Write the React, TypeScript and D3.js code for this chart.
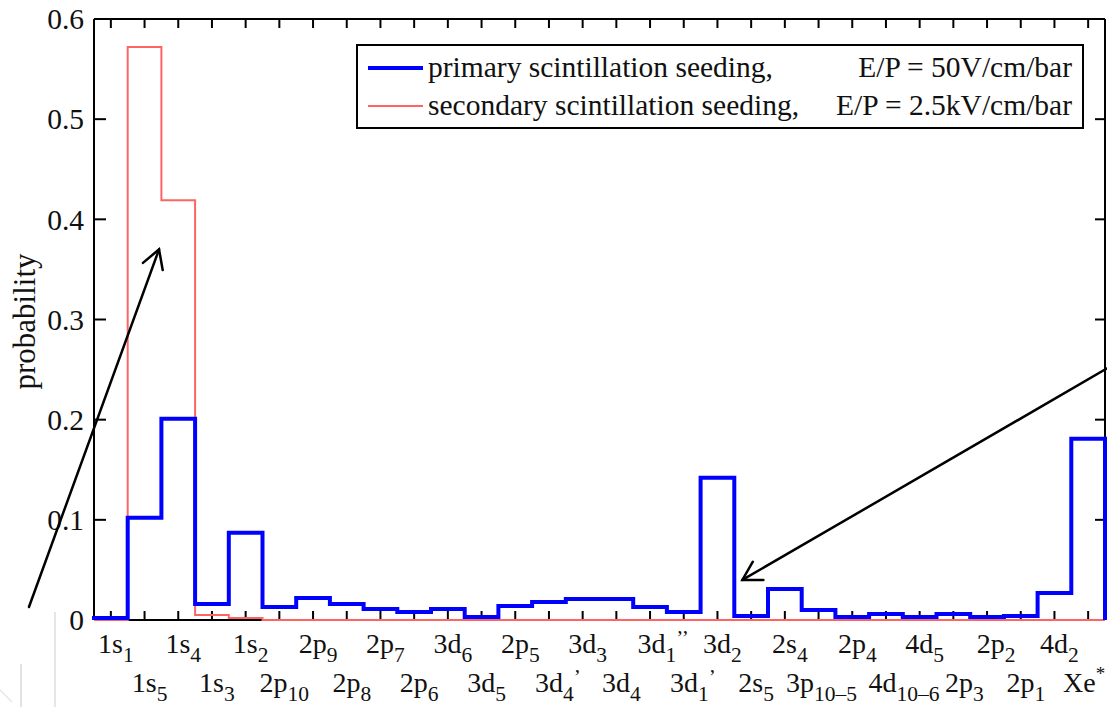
import React from "react";
import * as d3 from "d3";

// Excited xenon levels, left to right along the histogram.
// "_" starts a subscript, "^" a superscript; trailing primes follow the subscript.
const levels = [
  "1s_1", "1s_5", "1s_4", "1s_3", "1s_2", "2p_10", "2p_9", "2p_8", "2p_7", "2p_6",
  "3d_6", "3d_5", "2p_5", "3d_4’", "3d_3", "3d_4", "3d_1’’", "3d_1’", "3d_2", "2s_5",
  "2s_4", "3p_10–5", "2p_4", "4d_10–6", "4d_5", "2p_3", "2p_2", "2p_1", "4d_2", "Xe^*",
];

// Seeding probability per level, primary scintillation (E/P = 50 V/cm/bar).
const primary = [
  0.002, 0.102, 0.201, 0.016, 0.087, 0.013, 0.022, 0.016, 0.011, 0.008,
  0.011, 0.003, 0.014, 0.018, 0.021, 0.021, 0.013, 0.008, 0.142, 0.004,
  0.031, 0.010, 0.003, 0.006, 0.003, 0.006, 0.003, 0.004, 0.027, 0.181,
];

// Seeding probability per level, secondary scintillation (E/P = 2.5 kV/cm/bar).
const secondary = [
  0, 0.572, 0.419, 0.005, 0.002, 0, 0, 0, 0, 0,
  0, 0, 0, 0, 0, 0, 0, 0, 0, 0,
  0, 0, 0, 0, 0, 0, 0, 0, 0, 0,
];

const yTicks = [0, 0.1, 0.2, 0.3, 0.4, 0.5, 0.6];

const legendItems = [
  { name: "primary scintillation seeding,", field: "E/P = 50V/cm/bar" },
  { name: "secondary scintillation seeding,", field: "E/P = 2.5kV/cm/bar" },
];

// Annotation arrows, in data units: [fromBin, fromValue, toBin, toValue]
const arrows = [
  [-1.93, 0.013, 1.93, 0.37],
  [30.05, 0.251, 19.24, 0.04],
];

const W = 1107;
const H = 707;
const FONT = "'Liberation Serif', 'Times New Roman', serif";

const plot = { left: 94, right: 1105, top: 19, bottom: 620 };

const x = d3.scaleLinear().domain([0, levels.length]).range([plot.left, plot.right]);
const y = d3.scaleLinear().domain([0, 0.6]).range([plot.bottom, plot.top]);

// Horizontal label shifts (px) so long neighbouring labels do not collide.
const labelShift = 5;
const labelNudge: Record<string, number> = {
  "4d_10–6": 13,
  "3p_10–5": -2,
  "2p_3": 6,
  "2p_2": 4,
  "Xe^*": -9,
};

function stairs(values: number[]): string {
  const pts: [number, number][] = [[0, 0]];
  values.forEach((v, i) => {
    pts.push([i, v]);
    pts.push([i + 1, v]);
  });
  pts.push([values.length, 0]);
  return d3
    .line<[number, number]>()
    .x((d) => x(d[0]))
    .y((d) => y(d[1]))(pts) as string;
}

function parseLevel(s: string) {
  if (s.includes("^")) {
    const [base, sup] = s.split("^");
    return { base, sub: "", primes: "", sup };
  }
  const [base, rest] = s.split("_");
  const m = rest.match(/^([^’]*)(’*)$/);
  return { base, sub: m ? m[1] : rest, primes: m ? m[2] : "", sup: "" };
}

function LevelLabel({ label, cx, baseline }: { label: string; cx: number; baseline: number }) {
  const p = parseLevel(label);
  // primes hang off the right side; keep the level name itself centred
  const primeOffset = p.primes.length * 4;
  return (
    <text
      x={cx + primeOffset}
      y={baseline}
      textAnchor="middle"
      fontFamily={FONT}
      fontSize={28}
      fill="#111"
    >
      <tspan>{p.base}</tspan>
      {p.sub && (
        <tspan dy={9} fontSize={21.5}>
          {p.sub}
        </tspan>
      )}
      {p.primes && (
        <tspan dy={-17} fontSize={21}>
          {p.primes}
        </tspan>
      )}
      {p.sup && (
        <tspan dy={-12} fontSize={19}>
          {p.sup}
        </tspan>
      )}
    </text>
  );
}

function Arrow({ a }: { a: number[] }) {
  const x1 = x(a[0]);
  const y1 = y(a[1]);
  const x2 = x(a[2]);
  const y2 = y(a[3]);
  const ang = Math.atan2(y1 - y2, x1 - x2);
  const len = 21;
  const spread = Math.PI / 6;
  const h1 = [x2 + len * Math.cos(ang + spread), y2 + len * Math.sin(ang + spread)];
  const h2 = [x2 + len * Math.cos(ang - spread), y2 + len * Math.sin(ang - spread)];
  return (
    <g stroke="#000" strokeWidth={2.5} fill="none" strokeLinecap="round">
      <line x1={x1} y1={y1} x2={x2} y2={y2} />
      <polyline points={`${h1[0]},${h1[1]} ${x2},${y2} ${h2[0]},${h2[1]}`} />
    </g>
  );
}

export default function App() {
  const centers = levels.map((_, i) => x(i + 0.5));
  const legend = { x: 357, y: 45, w: 726, h: 83 };

  return (
    <svg
      width={W}
      height={H}
      viewBox={`0 0 ${W} ${H}`}
      style={{ position: "absolute", left: 0, top: 0, background: "#fff" }}
    >
      <rect x={0} y={0} width={W} height={H} fill="#fff" />

      {/* faint scan remnants in the lower-left corner */}
      <g stroke="#e6e6e6" fill="none">
        <line x1={55} y1={612} x2={55} y2={H} strokeWidth={2} />
        <line x1={21} y1={664} x2={21} y2={H} strokeWidth={1.5} stroke="#d8d8d8" />
        <line x1={0} y1={690} x2={12} y2={702} strokeWidth={1.5} />
      </g>

      {/* axes frame */}
      <g stroke="#000" strokeWidth={2} fill="none">
        <line x1={plot.left} y1={plot.top} x2={plot.right} y2={plot.top} />
        <line x1={plot.left} y1={plot.top} x2={plot.left} y2={plot.bottom} />
        <line x1={plot.right} y1={plot.top} x2={plot.right} y2={plot.bottom} />
        <line x1={plot.left} y1={plot.bottom} x2={plot.right} y2={plot.bottom} />
      </g>

      {/* ticks on all four sides, pointing inward */}
      <g stroke="#000" strokeWidth={2}>
        {centers.map((cx, i) => (
          <g key={i}>
            <line x1={cx} y1={plot.bottom} x2={cx} y2={plot.bottom - 9} />
            <line x1={cx} y1={plot.top} x2={cx} y2={plot.top + 9} />
          </g>
        ))}
        {yTicks.map((t) => (
          <g key={t}>
            <line x1={plot.left} y1={y(t)} x2={plot.left + 12} y2={y(t)} />
            <line x1={plot.right} y1={y(t)} x2={plot.right - 10} y2={y(t)} />
          </g>
        ))}
      </g>

      {/* y tick labels */}
      <g fontFamily={FONT} fontSize={29.5} fill="#111" textAnchor="end">
        {yTicks.map((t) => (
          <text key={t} x={plot.left - 10} y={y(t)} dy="0.35em">
            {t === 0 ? "0" : d3.format(".1f")(t)}
          </text>
        ))}
      </g>

      <text
        transform={`translate(35, ${(plot.top + plot.bottom) / 2 + 2}) rotate(-90)`}
        textAnchor="middle"
        fontFamily={FONT}
        fontSize={31}
        fill="#111"
      >
        probability
      </text>

      {/* level labels, alternating between two rows */}
      {levels.map((lab, i) => (
        <LevelLabel
          key={lab}
          label={lab}
          cx={centers[i] + labelShift + (labelNudge[lab] ?? 0)}
          baseline={i % 2 === 0 ? 653 : 692}
        />
      ))}

      {/* histograms */}
      <path d={stairs(secondary)} fill="none" stroke="#ff6464" strokeWidth={2} />
      <path d={stairs(primary)} fill="none" stroke="#0000ff" strokeWidth={4} />

      {/* legend */}
      <rect
        x={legend.x}
        y={legend.y}
        width={legend.w}
        height={legend.h}
        fill="#fff"
        stroke="#000"
        strokeWidth={2}
      />
      {legendItems.map((it, i) => {
        const ly = i === 0 ? 68 : 106;
        return (
          <g key={it.name}>
            <line
              x1={368}
              x2={423}
              y1={ly}
              y2={ly}
              stroke={i === 0 ? "#0000ff" : "#ff6464"}
              strokeWidth={i === 0 ? 4 : 2}
            />
            <text x={428} y={ly + 9} fontFamily={FONT} fontSize={29.5} fill="#111">
              {it.name}
            </text>
            <text x={1072} y={ly + 9} fontFamily={FONT} fontSize={29.5} fill="#111" textAnchor="end">
              {it.field}
            </text>
          </g>
        );
      })}

      {/* annotation arrows */}
      {arrows.map((a, i) => (
        <Arrow key={i} a={a} />
      ))}
    </svg>
  );
}
